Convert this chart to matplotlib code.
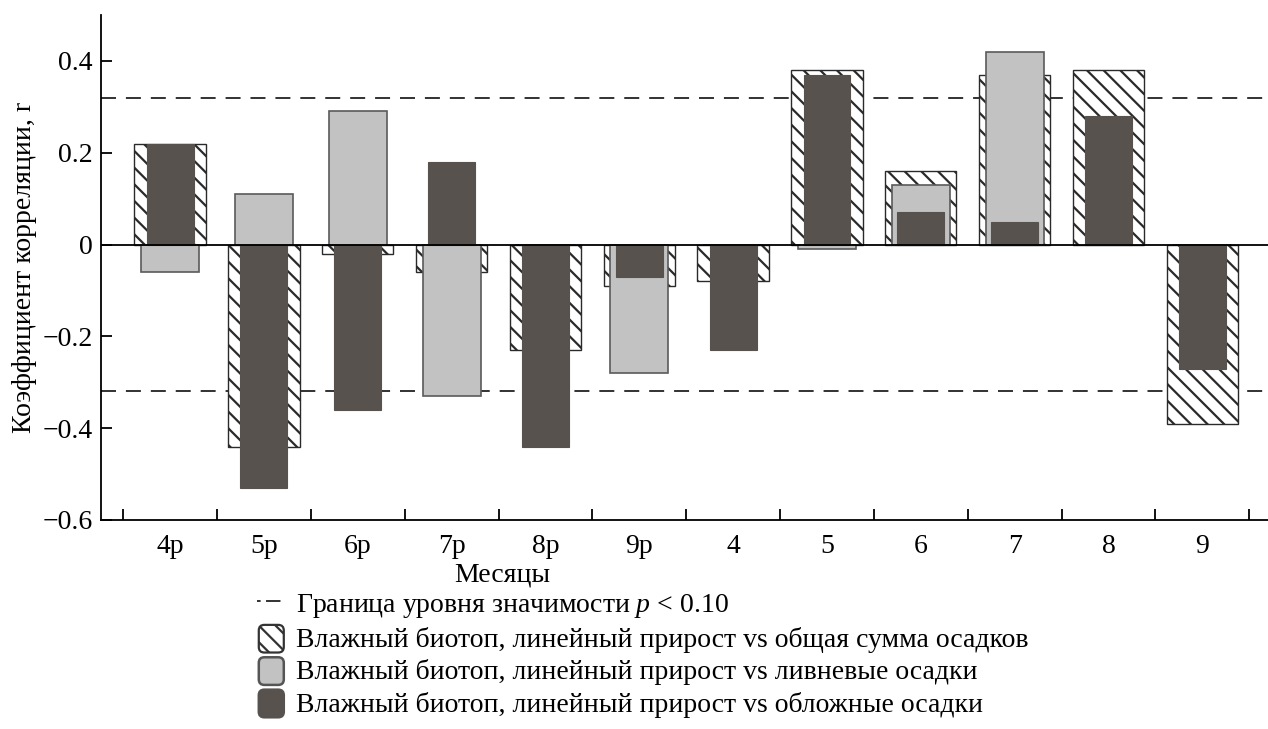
import numpy as np
import matplotlib
matplotlib.use("Agg")
import matplotlib.pyplot as plt
from matplotlib.lines import Line2D
from matplotlib.patches import Patch, FancyBboxPatch
from matplotlib.legend_handler import HandlerPatch

plt.rcParams['font.family'] = ['Liberation Serif', 'DejaVu Serif']
plt.rcParams['mathtext.fontset'] = 'custom'
plt.rcParams['mathtext.it'] = 'Liberation Serif:italic'
plt.rcParams['mathtext.rm'] = 'Liberation Serif'
plt.rcParams['hatch.linewidth'] = 1.6

# months: "р" = previous year
months = ['4р', '5р', '6р', '7р', '8р', '9р', '4', '5', '6', '7', '8', '9']
total_prec = [0.22, -0.44, -0.02, -0.06, -0.23, -0.09, -0.08, 0.38, 0.16, 0.37, 0.38, -0.39]
shower_prec = [-0.06, 0.11, 0.29, -0.33, -0.06, -0.28, -0.08, -0.01, 0.13, 0.42, 0.26, -0.17]
steady_prec = [0.22, -0.53, -0.36, 0.18, -0.44, -0.07, -0.23, 0.37, 0.07, 0.05, 0.28, -0.27]
signif = 0.32

labels = ['Граница уровня значимости $p$ < 0.10',
          'Влажный биотоп, линейный прирост vs общая сумма осадков',
          'Влажный биотоп, линейный прирост vs ливневые осадки',
          'Влажный биотоп, линейный прирост vs обложные осадки']

light = '#c2c2c2'
dark = '#57524e'
fs = 20

x = np.arange(len(months))

fig = plt.figure(figsize=(12.68, 7.29), dpi=100)
ax = fig.add_axes([0.0797, 0.2867, 0.9203, 0.6927])

ax.bar(x, total_prec, 0.76, facecolor='white', edgecolor='#2a2a2a',
       hatch='\\\\', linewidth=1.0, zorder=2)
light_bars = ax.bar(x, shower_prec, 0.62, facecolor=light, edgecolor='#5a5a5a',
                    linewidth=1.2, zorder=3)
ax.bar(x, steady_prec, 0.5, facecolor=dark, edgecolor=dark,
       linewidth=0.8, zorder=4)

# light bar goes behind the hatched one where the dark bar already covers it
for bar, s, d in zip(light_bars, shower_prec, steady_prec):
    if s * d > 0 and abs(d) > abs(s):
        bar.set_zorder(1.5)

ax.axhline(0, color='black', lw=1.3, zorder=5)
for yv in (signif, -signif):
    ax.axhline(yv, color='#222222', lw=1.3, dashes=(8.3, 5.5), zorder=1)

ax.set_xlim(-0.736, 11.7)
ax.set_ylim(-0.6, 0.5)

ax.spines['top'].set_visible(False)
ax.spines['right'].set_visible(False)
ax.spines['left'].set_linewidth(1.3)
ax.spines['bottom'].set_linewidth(1.3)

ax.set_yticks([-0.6, -0.4, -0.2, 0, 0.2, 0.4])
ax.set_yticklabels(['\u22120.6', '\u22120.4', '\u22120.2', '0', '0.2', '0.4'])
ax.tick_params(axis='y', direction='in', length=8, width=1.3, labelsize=fs, pad=6)

ax.set_xticks(x)
ax.set_xticklabels(months)
ax.set_xticks(np.arange(-0.5, len(months)), minor=True)
ax.tick_params(axis='x', which='major', length=0, labelsize=fs, pad=10)
ax.tick_params(axis='x', which='minor', direction='in', length=8, width=1.3)

ax.set_ylabel('Коэффициент корреляции, r', fontsize=fs)
ax.yaxis.set_label_coords(-0.055, 0.5)
ax.set_xlabel('Месяцы', fontsize=fs)
ax.xaxis.set_label_coords(0.344, -0.085)


class RoundedHandler(HandlerPatch):
    def create_artists(self, legend, orig_handle, xdescent, ydescent,
                       width, height, fontsize, trans):
        p = FancyBboxPatch((-xdescent + 1, -ydescent - 2), width - 2, height + 2,
                           boxstyle='round,pad=0,rounding_size=4')
        p.update_from(orig_handle)
        p.set_transform(trans)
        return [p]


handles = [
    Line2D([], [], color='#222222', lw=1.3, dashes=(2, 3, 8, 3)),
    Patch(facecolor='white', edgecolor='#333333', hatch='\\\\', linewidth=1.6),
    Patch(facecolor=light, edgecolor='#555555', linewidth=1.8),
    Patch(facecolor=dark, edgecolor=dark, linewidth=1.8),
]
fig.legend(handles, labels, loc='upper left', bbox_to_anchor=(0.203, 0.19),
           frameon=False, fontsize=fs, handlelength=1.0, handleheight=1.0,
           handletextpad=0.4, labelspacing=0.16, borderpad=0, borderaxespad=0,
           handler_map={Patch: RoundedHandler()})

fig.savefig('out.png', dpi=100)
